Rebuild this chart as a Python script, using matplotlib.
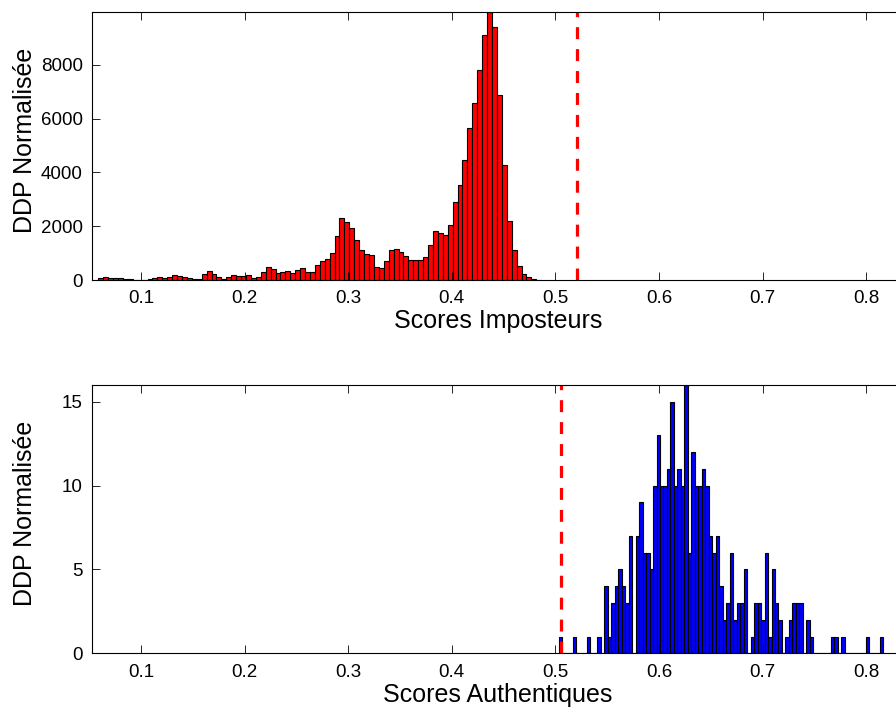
import matplotlib
matplotlib.use("Agg")
import matplotlib.pyplot as plt
import numpy as np

plt.rcParams['font.family'] = ['Liberation Sans', 'DejaVu Sans']
plt.rcParams['lines.scale_dashes'] = False

# ---- Impostor scores histogram (top) ----
imp_first_center = 0.0612
imp_bin_width = 0.00475
imp_counts = [60, 100, 60, 85, 60, 25, 25, 12, 12, 12,
              25, 60, 100, 60, 125, 170, 150, 110, 75, 37,
              37, 220, 320, 230, 95, 40, 100, 200, 150, 135,
              175, 75, 125, 285, 470, 410, 250, 285, 320, 260,
              370, 430, 285, 285, 555, 705, 780, 990, 1620, 2320,
              2140, 1950, 1480, 1110, 960, 925, 494, 432, 690, 1110,
              1170, 1025, 877, 740, 740, 740, 865, 1300, 1815, 1730,
              1680, 2060, 2890, 3520, 4470, 5640, 6560, 7800, 9110, 9960,
              9390, 6880, 4260, 2200, 1110, 520, 220, 110, 40, 10]
imp_threshold = 0.5211

# ---- Genuine scores histogram (bottom) ----
auth_first_center = 0.5051
auth_bin_width = 0.003364
auth_counts = [1, 0, 0, 0, 1, 0, 0, 0, 1, 0,
               0, 1, 0, 4, 1, 3, 4, 5, 4, 3,
               7, 0, 7, 9, 6, 6, 5, 10, 13, 10,
               10, 11, 15, 10, 11, 10, 16, 6, 12, 10,
               10, 11, 10, 7, 6, 7, 4, 2, 3, 6,
               2, 3, 3, 5, 0, 1, 3, 3, 2, 6,
               1, 5, 3, 2, 0, 1, 2, 3, 3, 3,
               0, 2, 1, 0, 0, 0, 0, 0, 1, 1,
               0, 1, 0, 0, 0, 0, 0, 0, 1, 0,
               0, 0, 1]
auth_threshold = 0.5051

x_ticks = [0.1, 0.2, 0.3, 0.4, 0.5, 0.6, 0.7, 0.8]
x_limits = (0.0524, 0.8368)
imp_yticks = [0, 2000, 4000, 6000, 8000]
auth_yticks = [0, 5, 10, 15]
ylabel_text = "DDP Normalisée"
imp_xlabel = "Scores Imposteurs"
auth_xlabel = "Scores Authentiques"

fig = plt.figure(figsize=(8.96, 7.09), dpi=100)
W, H = 896.0, 709.0
left_px, right_px = 91.7, 904.3
ax1 = fig.add_axes([left_px / W, (H - 280.0) / H, (right_px - left_px) / W, 268.0 / H])
ax2 = fig.add_axes([left_px / W, (H - 653.3) / H, (right_px - left_px) / W, 268.3 / H])


def style(ax, yticks, ymax, xlabel):
    ax.set_xlim(*x_limits)
    ax.set_ylim(0, ymax)
    ax.set_xticks(x_ticks)
    ax.set_xticklabels([f"{v:.1f}" for v in x_ticks])
    ax.set_yticks(yticks)
    ax.set_yticklabels([str(v) for v in yticks])
    ax.tick_params(axis='both', direction='in', length=6, width=0.6,
                   colors='black', labelsize=13.5, top=True, right=True)
    ax.tick_params(axis='x', pad=7.5)
    ax.tick_params(axis='y', pad=6.5)
    for s in ax.spines.values():
        s.set_linewidth(0.8)
    ax.set_xlabel(xlabel, fontsize=18)
    ax.set_ylabel(ylabel_text, fontsize=18)
    ax.xaxis.set_label_coords(0.5, -0.11)
    ax.yaxis.set_label_coords(-0.0676, 0.52)


imp_centers = imp_first_center + imp_bin_width * np.arange(len(imp_counts))
ax1.bar(imp_centers, imp_counts, width=imp_bin_width, color='#ff0000',
        edgecolor='black', linewidth=0.8, align='center')
ax1.axvline(imp_threshold, color='#ff0000', linewidth=2.3, dashes=(8.6, 7.2))
style(ax1, imp_yticks, max(imp_counts), imp_xlabel)

auth_centers = auth_first_center + auth_bin_width * np.arange(len(auth_counts))
ax2.bar(auth_centers, auth_counts, width=auth_bin_width, color='#0000ff',
        edgecolor='black', linewidth=0.8, align='center')
ax2.axvline(auth_threshold, color='#ff0000', linewidth=2.3, dashes=(8.6, 7.2))
style(ax2, auth_yticks, max(auth_counts), auth_xlabel)

fig.savefig("out.png", dpi=100)
